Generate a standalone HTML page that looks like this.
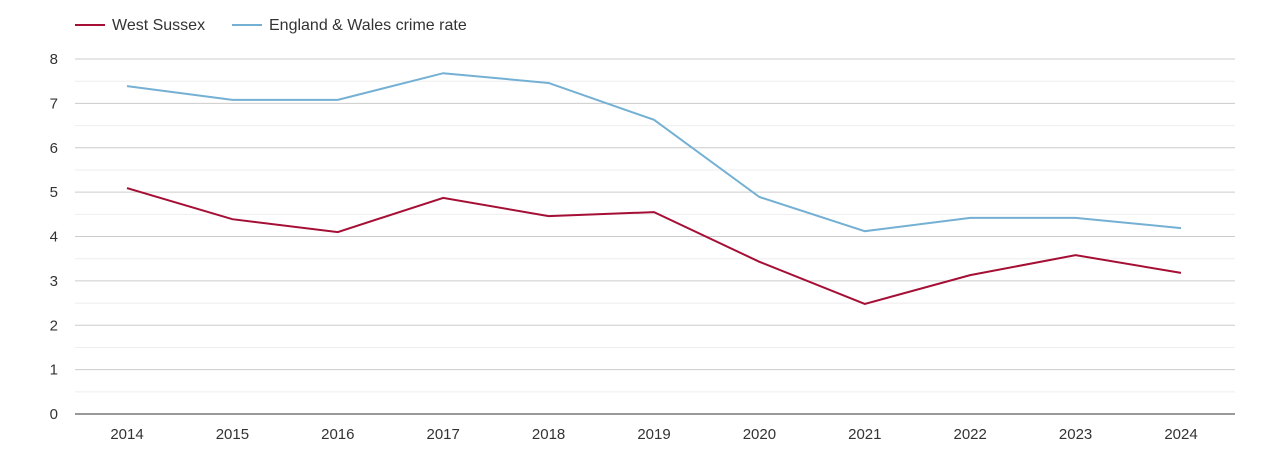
<!DOCTYPE html>
<html><head><meta charset="utf-8"><style>
body{margin:0;background:#fff;font-family:"Liberation Sans",sans-serif;}
svg text{font-family:"Liberation Sans",sans-serif;font-size:15px;fill:#333;}
svg #legend text{font-size:16px;}
</style></head><body>
<svg id="chart" width="1270" height="450" xmlns="http://www.w3.org/2000/svg">
<g id="legend">
<g><line x1="75" y1="25" x2="105" y2="25" stroke="#a50f35" stroke-width="2"/><text x="112" y="30">West Sussex</text></g>
<g><line x1="232" y1="25" x2="262" y2="25" stroke="#74b0d4" stroke-width="2"/><text x="269" y="30">England &amp; Wales crime rate</text></g>
</g>
<g id="grid"></g>
<g id="yaxis"></g>
<g id="xaxis"></g>
<g id="series"></g>
</svg>
<script>
const years=["2014","2015","2016","2017","2018","2019","2020","2021","2022","2023","2024"];
const westSussex=[5.09,4.39,4.10,4.87,4.46,4.55,3.43,2.48,3.13,3.58,3.18];
const englandWales=[7.39,7.08,7.08,7.68,7.46,6.63,4.89,4.12,4.42,4.42,4.19];
const yTicks=[0,1,2,3,4,5,6,7,8];
const NS="http://www.w3.org/2000/svg";
const x0=127,x1=1181,yBase=414,yTop=59,yMax=8;
const xs=i=>x0+(x1-x0)*i/(years.length-1);
const ys=v=>yBase-(yBase-yTop)*v/yMax;
function mk(t,a){const e=document.createElementNS(NS,t);for(const k in a)e.setAttribute(k,a[k]);return e;}
const grid=document.getElementById('grid'),ya=document.getElementById('yaxis'),xa=document.getElementById('xaxis'),ser=document.getElementById('series');
for(let v=0;v<=yMax;v+=0.5){
 const l=mk('line',{x1:75,x2:1235,y1:ys(v),y2:ys(v),stroke:v===0?'#333':(v%1===0?'#ccc':'#eee'),'stroke-width':1});
 
 
 grid.appendChild(l);
}
yTicks.forEach(v=>{
 const t=mk('text',{x:58,y:ys(v)+5,'text-anchor':'end'});t.textContent=v;
 
 
 ya.appendChild(t);
});
years.forEach((y,i)=>{
 const t=mk('text',{x:xs(i),y:439,'text-anchor':'middle'});t.textContent=y;
 
 
 xa.appendChild(t);
});
function line(vals,color,name){
 const p=mk('polyline',{points:vals.map((v,i)=>xs(i)+','+ys(v)).join(' '),fill:'none',stroke:color,'stroke-width':2});
 
 
 ser.appendChild(p);
}
line(englandWales,'#74b0d4','england-wales-line');
line(westSussex,'#a50f35','west-sussex-line');
</script>
</body></html>
